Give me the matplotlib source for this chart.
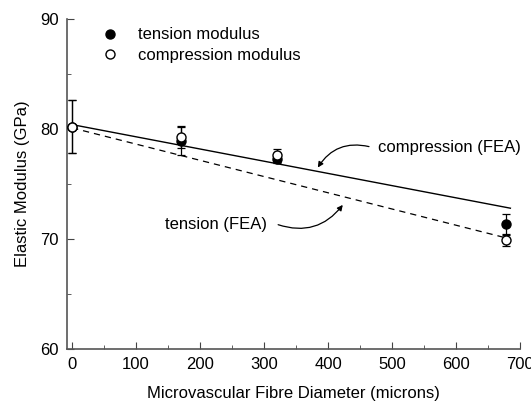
import matplotlib
matplotlib.use("Agg")
import matplotlib.pyplot as plt
from matplotlib.ticker import MultipleLocator
from matplotlib.lines import Line2D

plt.rcParams['font.family'] = ['Liberation Sans', 'DejaVu Sans']

# Data
diam = [0, 170, 320, 678]
tension = [80.2, 78.9, 77.3, 71.4]
tension_err = [2.4, 1.3, 0.4, 0.9]
compression = [80.2, 79.3, 77.6, 69.9]
compression_err = [2.4, 1.0, 0.6, 0.5]

fea_x = [0, 685]
fea_compression = [80.4, 72.8]
fea_tension = [80.1, 70.0]

FS = 12

fig = plt.figure(figsize=(5.31, 4.05), dpi=100)
ax = fig.add_axes([67/531, 1-349/405, (520-67)/531, (349-19)/405])

ax.plot(fea_x, fea_compression, '-', color='black', lw=1.0)
ax.plot(fea_x, fea_tension, '--', color='black', lw=0.9, dashes=(5, 4))

ax.errorbar(diam, tension, yerr=tension_err, fmt='o', color='black', mfc='black',
            mec='black', ms=6.5, capsize=3, elinewidth=0.9, capthick=0.9, zorder=3)
ax.errorbar(diam, compression, yerr=compression_err, fmt='o', color='black', mfc='white',
            mec='black', ms=6.5, capsize=3, elinewidth=0.9, capthick=0.9, zorder=4)

ax.set_xlim(-8, 700)
ax.set_ylim(60, 90)
ax.xaxis.set_major_locator(MultipleLocator(100))
ax.xaxis.set_minor_locator(MultipleLocator(50))
ax.yaxis.set_major_locator(MultipleLocator(10))
ax.yaxis.set_minor_locator(MultipleLocator(5))
ax.tick_params(which='both', direction='in', labelsize=FS, color='#444444')
ax.tick_params(which='major', length=5, pad=6)
ax.tick_params(which='minor', length=3)
for s in ['top', 'right']:
    ax.spines[s].set_visible(False)
for s in ['left', 'bottom']:
    ax.spines[s].set_color('#555555')
    ax.spines[s].set_linewidth(1.2)

ax.set_xlabel('Microvascular Fibre Diameter (microns)', fontsize=FS, labelpad=10)
ax.set_ylabel('Elastic Modulus (GPa)', fontsize=FS, labelpad=7)

handles = [Line2D([], [], marker='o', ls='none', color='black', mfc='black', ms=6.5),
           Line2D([], [], marker='o', ls='none', color='black', mfc='white', ms=6.5)]
ax.legend(handles, ['tension modulus', 'compression modulus'], frameon=False,
          loc='upper left', bbox_to_anchor=(0.035, 1.02), fontsize=FS,
          handletextpad=0.9, labelspacing=0.35, handlelength=1.5)

# compression (FEA) label + curved arrow
ax.text(478, 78.3, 'compression (FEA)', fontsize=FS, va='center', ha='left')
ax.annotate('', xy=(384, 76.5), xytext=(464, 78.4),
            arrowprops=dict(arrowstyle='-|>', color='black', lw=0.9,
                            mutation_scale=8, shrinkA=0, shrinkB=0,
                            connectionstyle='arc3,rad=0.35'))
# tension (FEA) label + curved arrow
ax.text(145, 71.3, 'tension (FEA)', fontsize=FS, va='center', ha='left')
ax.annotate('', xy=(423, 73.1), xytext=(322, 71.3),
            arrowprops=dict(arrowstyle='-|>', color='black', lw=0.9,
                            mutation_scale=8, shrinkA=0, shrinkB=0,
                            connectionstyle='arc3,rad=0.35'))

fig.savefig('out.png', dpi=100)
